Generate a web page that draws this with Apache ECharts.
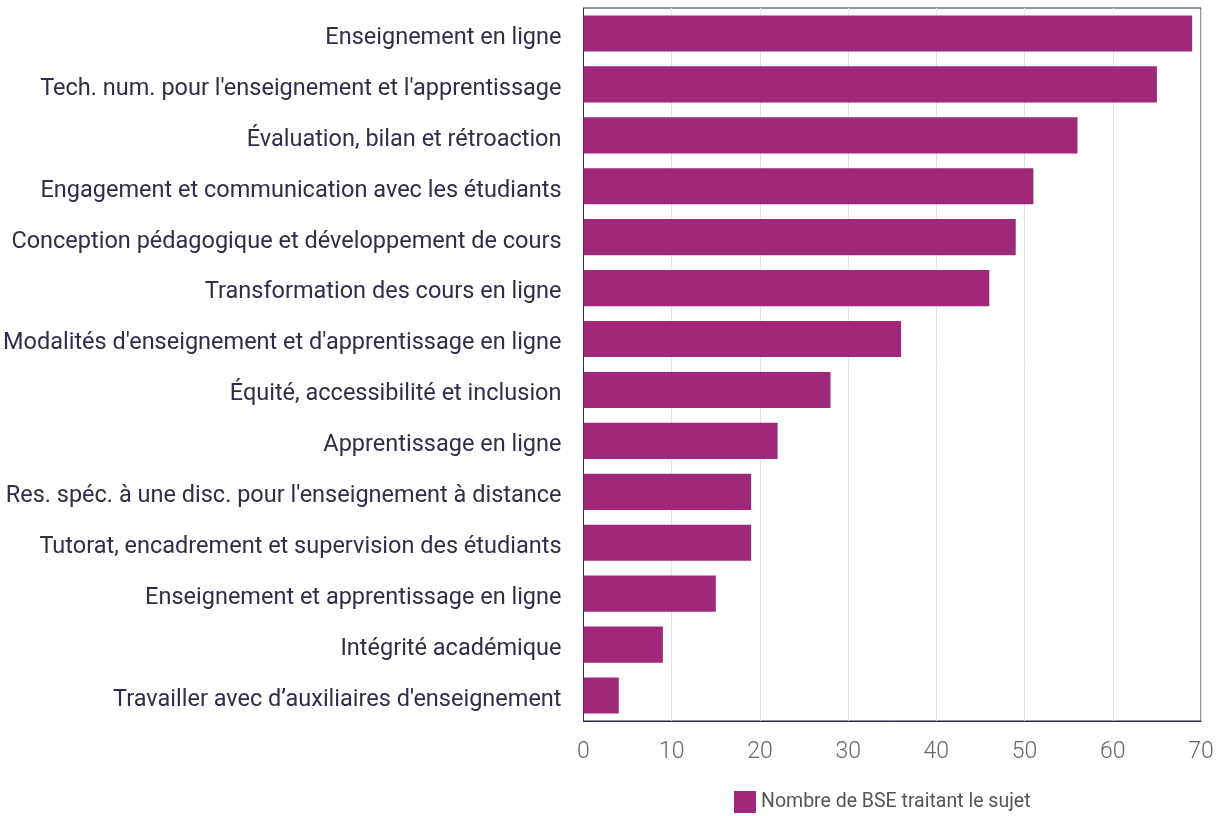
<!DOCTYPE html>
<html>
<head>
<meta charset="utf-8">
<script src="https://cdn.jsdelivr.net/npm/echarts@6/dist/echarts.min.js"></script>
<style>
  html, body { margin: 0; padding: 0; background: #fff; }
  #chart { width: 1220px; height: 816px; }
</style>
</head>
<body>
<div id="chart"></div>
<script>
// sujets, du plus fréquent au moins fréquent
const categories = [
  "Enseignement en ligne",
  "Tech. num. pour l'enseignement et l'apprentissage",
  "Évaluation, bilan et rétroaction",
  "Engagement et communication avec les étudiants",
  "Conception pédagogique et développement de cours",
  "Transformation des cours en ligne",
  "Modalités d'enseignement et d'apprentissage en ligne",
  "Équité, accessibilité et inclusion",
  "Apprentissage en ligne",
  "Res. spéc. à une disc. pour l'enseignement à distance",
  "Tutorat, encadrement et supervision des étudiants",
  "Enseignement et apprentissage en ligne",
  "Intégrité académique",
  "Travailler avec d’auxiliaires d'enseignement"
];
const values = [69, 65, 56, 51, 49, 46, 36, 28, 22, 19, 19, 15, 9, 4];
const seriesName = "Nombre de BSE traitant le sujet";

const chart = echarts.init(document.getElementById('chart'));
chart.setOption({
  animation: false,
  grid: {
    left: 583, top: 8, right: 19, bottom: 95,
    show: true, borderColor: '#2b2b45', borderWidth: 1
  },
  legend: {
    left: 729, top: 786,
    itemWidth: 22, itemHeight: 22, itemGap: 10,
    icon: 'rect',
    textStyle: { fontFamily: 'Roboto', fontSize: 19.5, color: '#555' },
    data: [seriesName]
  },
  xAxis: {
    type: 'value',
    min: 0, max: 70, interval: 10,
    axisLine: { show: true, lineStyle: { color: '#2b2b45' } },
    axisTick: { show: false },
    splitLine: { lineStyle: { color: '#e3e3e8' } },
    axisLabel: {
      margin: 20,
      fontFamily: 'Roboto', fontWeight: 300, fontSize: 23, color: '#666'
    }
  },
  yAxis: {
    type: 'category',
    inverse: true,
    data: categories,
    axisLine: { show: true, lineStyle: { color: '#2b2b45' } },
    axisTick: { show: false },
    axisLabel: {
      margin: 22,
      formatter: '{a|{value}}',
      rich: {
        a: {
          padding: [9, 0, 0, 0],
          fontFamily: 'Roboto', fontSize: 23.5, color: '#2e2e48'
        }
      }
    }
  },
  series: [{
    name: seriesName,
    type: 'bar',
    data: values,
    barCategoryGap: '29%',
    itemStyle: { color: '#a0287a' }
  }]
});
</script>
</body>
</html>
